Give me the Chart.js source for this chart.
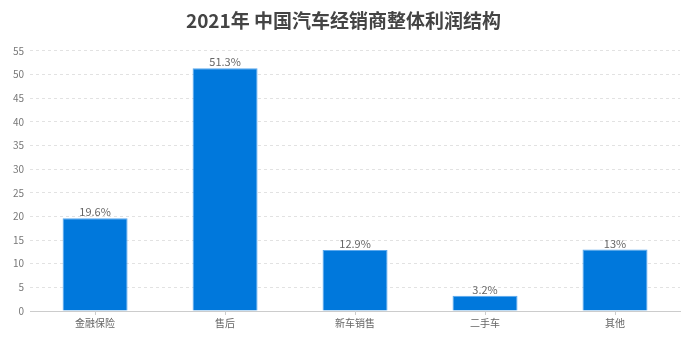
<!DOCTYPE html>
<html><head><meta charset="utf-8">
<script src="https://cdn.jsdelivr.net/npm/chart.js@4"></script>
<style>html,body{margin:0;padding:0;background:#fff}#wrap{width:693px;height:341px}</style>
</head><body><div id="wrap"><canvas id="c" width="693" height="341"></canvas></div>
<script>
const categories = ['金融保险', '售后', '新车销售', '二手车', '其他'];
const values = [19.6, 51.3, 12.9, 3.2, 13];
const valueLabels = ['19.6%', '51.3%', '12.9%', '3.2%', '13%'];
const yTicks = [0, 5, 10, 15, 20, 25, 30, 35, 40, 45, 50, 55];

const FONT = "'Noto Sans CJK SC', 'Noto Sans', sans-serif";
const labelPlugin = {
  id: 'vlabels',
  afterDatasetsDraw(chart) {
    const ctx = chart.ctx;
    const meta = chart.getDatasetMeta(0);
    ctx.save();
    ctx.font = "11px " + FONT;
    ctx.fillStyle = '#666';
    ctx.textAlign = 'center';
    ctx.textBaseline = 'bottom';
    meta.data.forEach((bar, i) => {
      ctx.fillText(valueLabels[i], bar.x, bar.y - 0.5);
    });
    ctx.restore();
  }
};

new Chart(document.getElementById('c'), {
  type: 'bar',
  data: {
    labels: categories,
    datasets: [{
      data: values,
      backgroundColor: '#0078DC',
      borderColor: '#5AA8EE',
      borderWidth: 1,
      barPercentage: 0.5,
      categoryPercentage: 1.0
    }]
  },
  options: {
    responsive: false,
    animation: false,
    layout: { padding: { left: 7, right: 13, top: 0, bottom: 10 } },
    plugins: {
      legend: { display: false },
      tooltip: { enabled: false },
      title: {
        display: true,
        text: '2021年 中国汽车经销商整体利润结构',
        color: '#444',
        font: { family: FONT, size: 19, weight: 'bold' },
        padding: { top: 9, bottom: 19 }
      }
    },
    scales: {
      x: {
        grid: { drawOnChartArea: false, drawTicks: true, tickLength: 4, offset: false, color: '#ccc' },
        border: { color: '#ccc' },
        ticks: { color: '#666', font: { family: FONT, size: 10 }, padding: 2 }
      },
      y: {
        min: 0, max: 55,
        afterBuildTicks(axis) { axis.ticks = yTicks.map(v => ({ value: v })); },
        grid: { color: '#e2e2e2', drawTicks: false, tickBorderDash: [3, 3] },
        border: { display: false, dash: [3, 3] },
        ticks: { color: '#777', font: { family: FONT, size: 10 }, padding: 6 }
      }
    }
  },
  plugins: [labelPlugin]
});
</script></body></html>
